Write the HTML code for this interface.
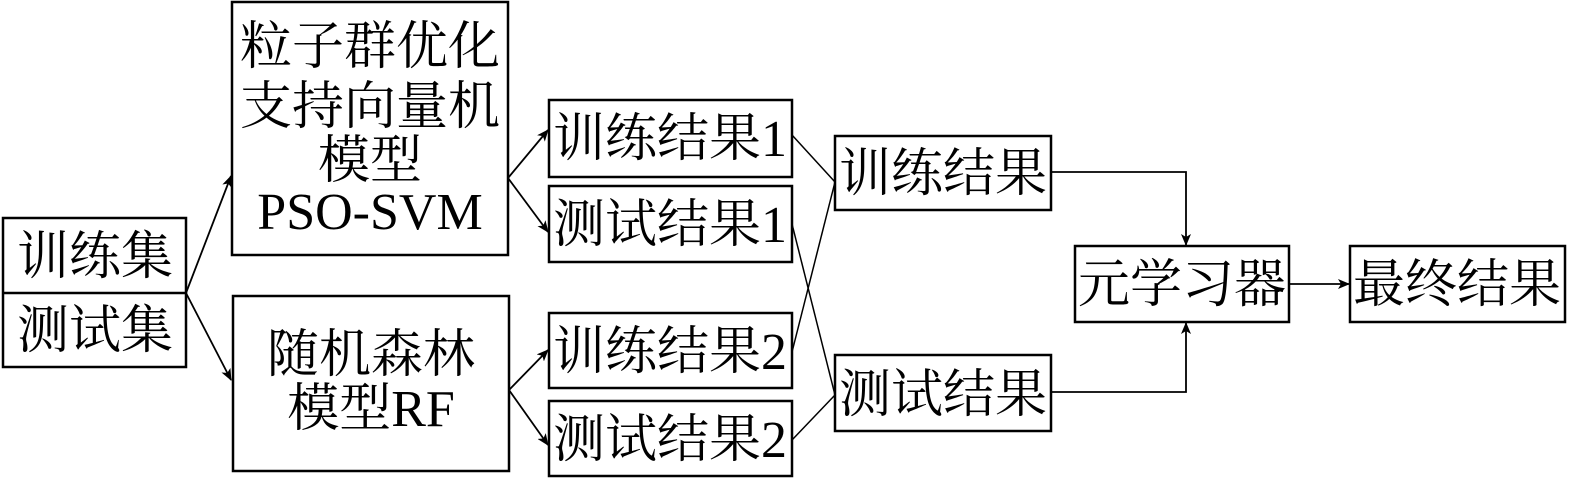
<!DOCTYPE html>
<html><head><meta charset="utf-8"><style>
html,body{margin:0;padding:0;background:#fff;}
svg text{font-family:"Liberation Serif","Noto Serif CJK SC",serif;font-size:52px;fill:#000;}
</style></head><body>
<svg width="1575" height="479" viewBox="0 0 1575 479" xmlns="http://www.w3.org/2000/svg">
<defs><marker id="a" markerWidth="12" markerHeight="10" refX="11" refY="5" orient="auto" markerUnits="userSpaceOnUse"><path d="M0,0 L12,5 L0,10 L3,5 Z" fill="#000"/></marker></defs>
<g fill="none" stroke="#000" stroke-width="2.5">
<rect x="3" y="218" width="183" height="149"/><line x1="3" y1="293" x2="186" y2="293"/>
<rect x="232" y="2" width="276" height="253"/>
<rect x="233" y="296" width="276" height="175"/>
<rect x="549" y="100" width="243" height="77"/>
<rect x="549" y="186" width="243" height="76"/>
<rect x="549" y="313" width="243" height="75"/>
<rect x="549" y="401" width="243" height="75"/>
<rect x="835" y="136" width="216" height="74"/>
<rect x="835" y="355" width="216" height="76"/>
<rect x="1075" y="246" width="214" height="76"/>
<rect x="1350" y="246" width="215" height="76"/>
</g>
<g fill="none" stroke="#000" stroke-width="1.8" marker-end="url(#a)">
<line x1="186" y1="293" x2="231" y2="176"/>
<line x1="186" y1="293" x2="231" y2="380"/>
<line x1="508" y1="178" x2="548" y2="130"/>
<line x1="508" y1="178" x2="548" y2="232"/>
<line x1="509" y1="390" x2="548" y2="350"/>
<line x1="509" y1="390" x2="548" y2="445"/>
<polyline points="1051,172 1186,172 1186,245"/>
<polyline points="1051,392 1186,392 1186,323"/>
<line x1="1289" y1="284" x2="1349" y2="284"/>
</g>
<g fill="none" stroke="#000" stroke-width="1.5">
<line x1="792" y1="135" x2="835" y2="182"/>
<line x1="792" y1="352" x2="835" y2="182"/>
<line x1="792" y1="224" x2="835" y2="395"/>
<line x1="792" y1="440" x2="835" y2="395"/>
</g>
<g text-anchor="middle">
<text x="95" y="274">训练集</text>
<text x="95" y="348">测试集</text>
<text x="370" y="64">粒子群优化</text>
<text x="370" y="124">支持向量机</text>
<text x="370" y="178">模型</text>
<text x="370" y="229">PSO-SVM</text>
<text x="371" y="372">随机森林</text>
<text x="371" y="426">模型RF</text>
<text x="670" y="156">训练结果1</text>
<text x="670" y="242">测试结果1</text>
<text x="670" y="369">训练结果2</text>
<text x="670" y="457">测试结果2</text>
<text x="943" y="191">训练结果</text>
<text x="943" y="412">测试结果</text>
<text x="1182" y="302">元学习器</text>
<text x="1457" y="302">最终结果</text>
</g>
</svg>
</body></html>
